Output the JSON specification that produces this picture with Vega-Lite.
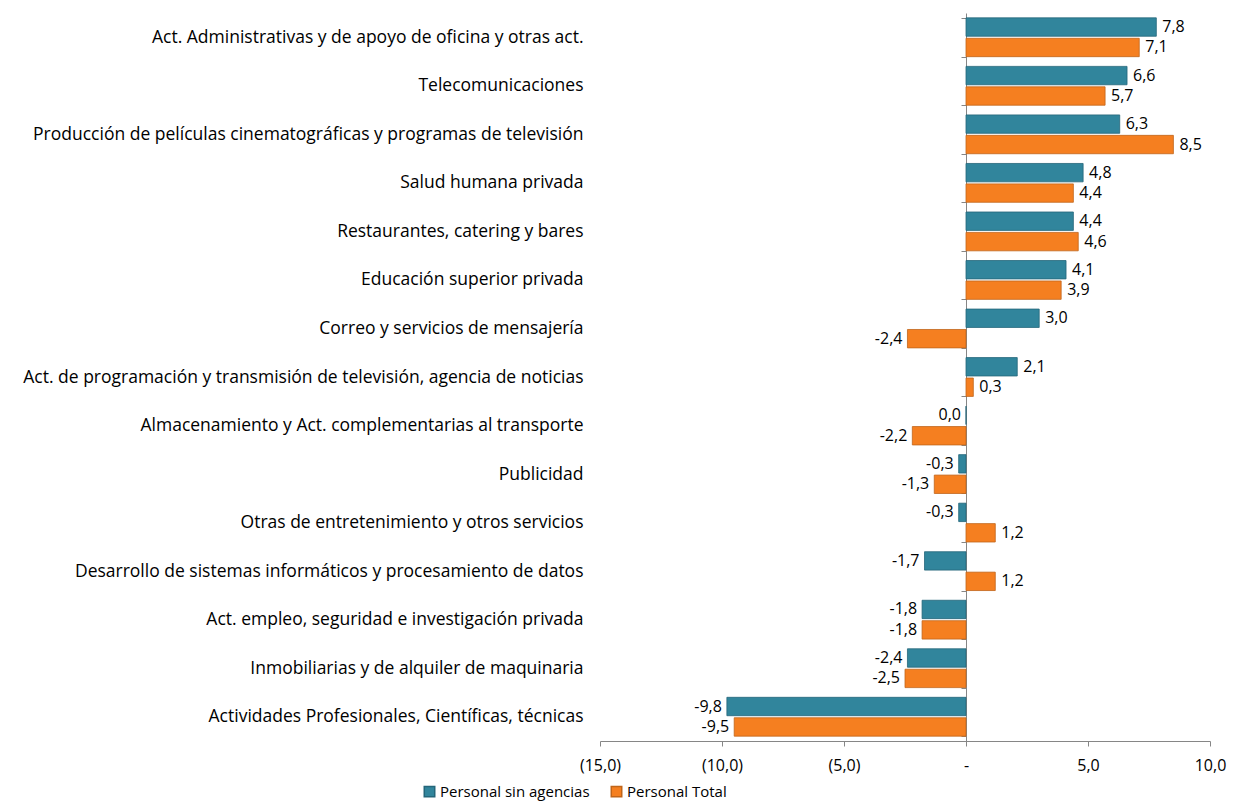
{
  "$schema": "https://vega.github.io/schema/vega-lite/v6.json",
  "width": 610,
  "height": 728,
  "autosize": {"type": "none"},
  "padding": {"left": 600, "top": 13, "right": 24, "bottom": 61},
  "background": "white",
  "config": {
    "locale": {"number": {"decimal": ",", "thousands": ".", "grouping": [3], "currency": ["", ""], "minus": "-"}},
    "view": {"stroke": null},
    "font": "Open Sans",
    "text": {"font": "Open Sans"}
  },
  "data": {
    "values": [
      {"sector": "Act. Administrativas y de apoyo de oficina y otras act.", "serie": "Personal sin agencias", "v": 7.8},
      {"sector": "Act. Administrativas y de apoyo de oficina y otras act.", "serie": "Personal Total", "v": 7.1},
      {"sector": "Telecomunicaciones", "serie": "Personal sin agencias", "v": 6.6},
      {"sector": "Telecomunicaciones", "serie": "Personal Total", "v": 5.7},
      {"sector": "Producción de películas cinematográficas y programas de televisión", "serie": "Personal sin agencias", "v": 6.3},
      {"sector": "Producción de películas cinematográficas y programas de televisión", "serie": "Personal Total", "v": 8.5},
      {"sector": "Salud humana privada", "serie": "Personal sin agencias", "v": 4.8},
      {"sector": "Salud humana privada", "serie": "Personal Total", "v": 4.4},
      {"sector": "Restaurantes, catering y bares", "serie": "Personal sin agencias", "v": 4.4},
      {"sector": "Restaurantes, catering y bares", "serie": "Personal Total", "v": 4.6},
      {"sector": "Educación superior privada", "serie": "Personal sin agencias", "v": 4.1},
      {"sector": "Educación superior privada", "serie": "Personal Total", "v": 3.9},
      {"sector": "Correo y servicios de mensajería", "serie": "Personal sin agencias", "v": 3.0},
      {"sector": "Correo y servicios de mensajería", "serie": "Personal Total", "v": -2.4},
      {"sector": "Act. de programación y transmisión de televisión, agencia de noticias", "serie": "Personal sin agencias", "v": 2.1},
      {"sector": "Act. de programación y transmisión de televisión, agencia de noticias", "serie": "Personal Total", "v": 0.3},
      {"sector": "Almacenamiento y Act. complementarias al transporte", "serie": "Personal sin agencias", "v": 0.0},
      {"sector": "Almacenamiento y Act. complementarias al transporte", "serie": "Personal Total", "v": -2.2},
      {"sector": "Publicidad", "serie": "Personal sin agencias", "v": -0.3},
      {"sector": "Publicidad", "serie": "Personal Total", "v": -1.3},
      {"sector": "Otras de entretenimiento y otros servicios", "serie": "Personal sin agencias", "v": -0.3},
      {"sector": "Otras de entretenimiento y otros servicios", "serie": "Personal Total", "v": 1.2},
      {"sector": "Desarrollo de sistemas informáticos y procesamiento de datos", "serie": "Personal sin agencias", "v": -1.7},
      {"sector": "Desarrollo de sistemas informáticos y procesamiento de datos", "serie": "Personal Total", "v": 1.2},
      {"sector": "Act. empleo, seguridad e investigación privada", "serie": "Personal sin agencias", "v": -1.8},
      {"sector": "Act. empleo, seguridad e investigación privada", "serie": "Personal Total", "v": -1.8},
      {"sector": "Inmobiliarias y de alquiler de maquinaria", "serie": "Personal sin agencias", "v": -2.4},
      {"sector": "Inmobiliarias y de alquiler de maquinaria", "serie": "Personal Total", "v": -2.5},
      {"sector": "Actividades Profesionales, Científicas, técnicas", "serie": "Personal sin agencias", "v": -9.8},
      {"sector": "Actividades Profesionales, Científicas, técnicas", "serie": "Personal Total", "v": -9.5}
    ]
  },
  "encoding": {
    "y": {
      "field": "sector",
      "type": "nominal",
      "sort": null,
      "scale": {"paddingInner": 0.2, "paddingOuter": 0.1},
      "axis": {
        "title": null,
        "offset": -366,
        "tickBand": "extent",
        "tickSize": 5,
        "tickColor": "#868686",
        "domainColor": "#868686",
        "labelPadding": 378,
        "labelLimit": 800,
        "labelFontSize": 17.5,
        "labelColor": "#000000",
        "labelFont": "Open Sans"
      }
    },
    "yOffset": {
      "field": "serie",
      "type": "nominal",
      "sort": ["Personal sin agencias", "Personal Total"],
      "scale": {"paddingInner": 0.1}
    },
    "x": {
      "field": "v",
      "type": "quantitative",
      "scale": {"domain": [-15, 10], "nice": false, "zero": false},
      "axis": {
        "title": null,
        "values": [-15, -10, -5, 0, 5, 10],
        "grid": false,
        "tickSize": 5,
        "tickColor": "#868686",
        "domainColor": "#868686",
        "labelPadding": 11,
        "labelFontSize": 16,
        "labelColor": "#000000",
        "labelFont": "Open Sans",
        "labelFlush": false,
        "labelExpr": "datum.value < 0 ? '(' + format(-datum.value, '.1f') + ')' : (datum.value == 0 ? '-' : format(datum.value, '.1f'))"
      }
    }
  },
  "layer": [
    {
      "mark": {"type": "bar", "strokeWidth": 0.8},
      "encoding": {
        "color": {
          "field": "serie",
          "type": "nominal",
          "sort": ["Personal sin agencias", "Personal Total"],
          "scale": {"domain": ["Personal sin agencias", "Personal Total"], "range": ["#31859C", "#F57F20"]},
          "legend": {
            "title": null,
            "orient": "none",
            "direction": "horizontal",
            "legendX": -178,
            "legendY": 771,
            "symbolType": "square",
            "symbolSize": 110,
            "symbolOpacity": 1,
            "labelFontSize": 15,
            "labelColor": "#000000",
            "labelFont": "Open Sans",
            "columnPadding": 18,
            "labelOffset": 3
          }
        },
        "stroke": {
          "field": "serie",
          "type": "nominal",
          "scale": {"domain": ["Personal sin agencias", "Personal Total"], "range": ["#24667A", "#C0651A"]},
          "legend": null
        }
      }
    },
    {
      "mark": {
        "type": "text",
        "fontSize": 16,
        "font": "Open Sans",
        "color": "#000000",
        "align": {"expr": "datum.v > 0 ? 'left' : 'right'"},
        "dx": {"expr": "datum.v > 0 ? 6 : -5"},
        "baseline": "middle"
      },
      "encoding": {
        "text": {"field": "v", "type": "quantitative", "format": ".1f"}
      }
    }
  ]
}
